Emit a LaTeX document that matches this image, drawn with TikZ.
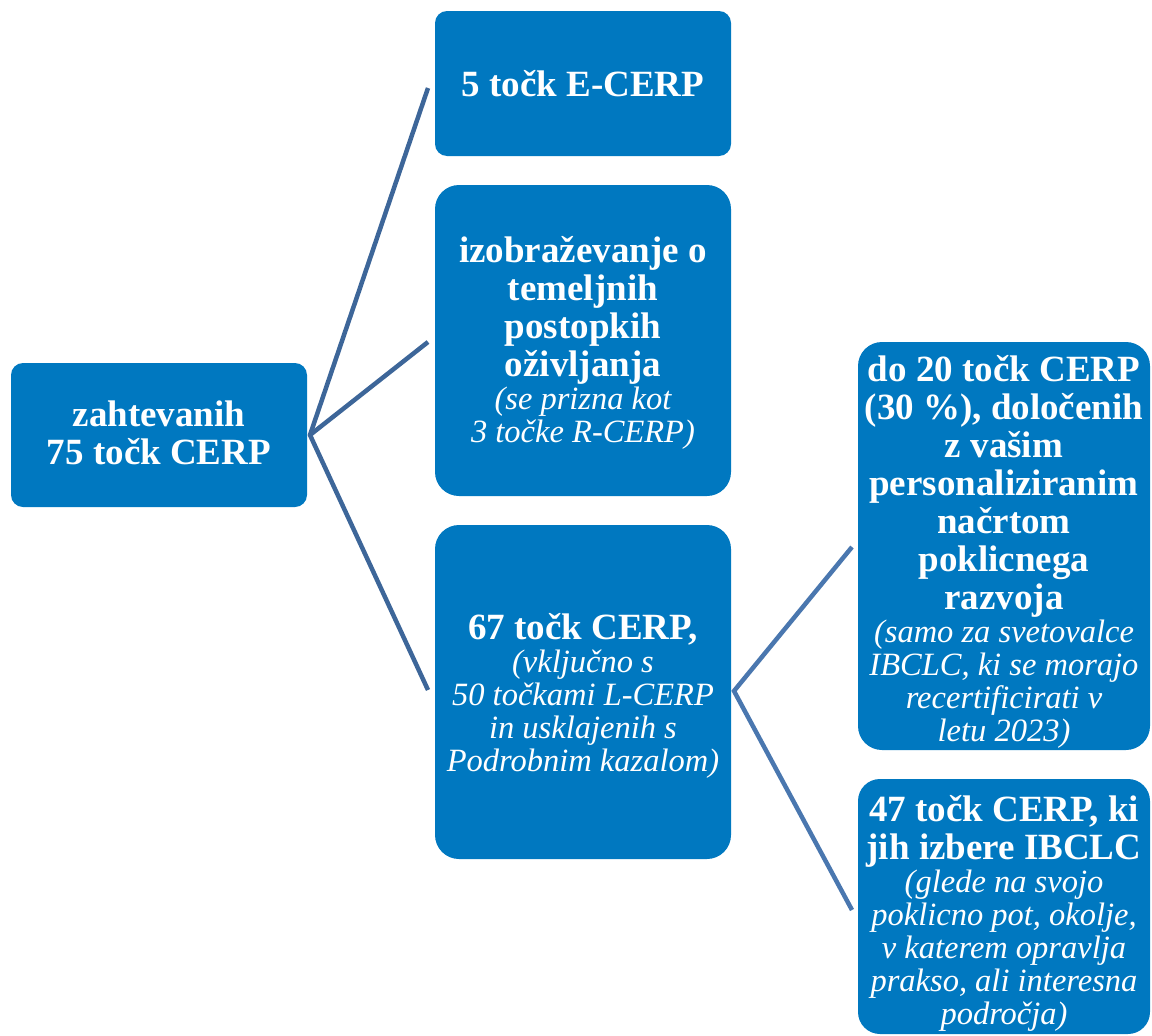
\documentclass[tikz,border=0pt]{standalone}
\usepackage{fontspec}
\setmainfont{Liberation Serif}
\definecolor{boxblue}{RGB}{0,120,192}
\definecolor{linkA}{RGB}{61,102,153}
\definecolor{linkB}{RGB}{74,119,175}
\newcommand{\boldtxt}{\fontsize{37}{38}\selectfont\bfseries}
\newcommand{\italtxt}{\fontsize{32.5}{33}\selectfont\itshape\mdseries}
\newcommand{\boxtext}[1]{\parbox{340pt}{\centering\color{white}#1}}
\begin{document}
\begin{tikzpicture}[x=1pt,y=-1pt,
  box/.style={fill=boxblue, draw=none, inner sep=0pt},
  txt/.style={inner sep=0pt},
  link/.style={line width=4.5pt, line join=miter}]
\useasboundingbox (0,0) rectangle (1152,1036);
% boxes
\node[box, rounded corners=12pt, minimum width=296pt, minimum height=144pt] (root) at (159,435) {};
\node[box, rounded corners=12pt, minimum width=296pt, minimum height=145pt] (b1) at (583,83.5) {};
\node[box, rounded corners=24pt, minimum width=296pt, minimum height=311pt] (b2) at (583,340.5) {};
\node[box, rounded corners=24pt, minimum width=296pt, minimum height=334pt] (b3) at (583,692) {};
\node[box, rounded corners=24pt, minimum width=292pt, minimum height=408pt] (b4) at (1004,546) {};
\node[box, rounded corners=22pt, minimum width=292pt, minimum height=255pt] (b5) at (1004,906.5) {};
% texts
\node[txt] (t0) at ([yshift=2pt]root.center) {\boxtext{\boldtxt zahtevanih\\75 točk CERP\par}};
\node[txt] (t1) at (b1.center) {\boxtext{\boldtxt 5 točk E-CERP\par}};
\node[txt] (t2) at ([yshift=-2pt]b2.center) {\boxtext{{\boldtxt izobraževanje o\\temeljnih\\postopkih\\oživljanja\par}{\italtxt (se prizna kot\\3 točke R-CERP)\par}}};
\node[txt] (t3) at ([yshift=-4pt]b3.center) {\boxtext{{\boldtxt 67 točk CERP,\par}{\italtxt (vključno s\\50 točkami L-CERP\\in usklajenih s\\Podrobnim kazalom)\par}}};
\node[txt] (t4) at ([yshift=-6pt]b4.center) {\boxtext{{\boldtxt do 20 točk CERP\\(30 \%), določenih\\z vašim\\personaliziranim\\načrtom\\poklicnega\\razvoja\par}{\italtxt (samo za svetovalce\\IBCLC, ki se morajo\\recertificirati v\\letu 2023)\par}}};
\node[txt] (t5) at ([yshift=-7pt]b5.center) {\boxtext{{\boldtxt 47 točk CERP, ki\\jih izbere IBCLC\par}{\italtxt (glede na svojo\\poklicno pot, okolje,\\v katerem opravlja\\prakso, ali interesna\\področja)\par}}};
% connector ends
\coordinate (j1) at (310,435);
\coordinate (e1) at (428,88);
\coordinate (e2) at (428,342);
\coordinate (e3) at (428,690);
\coordinate (j2) at (734,691);
\coordinate (e4) at (852,547);
\coordinate (e5) at (852,910);
\draw[link, linkA] (e1) -- (j1) -- (e3);
\draw[link, linkA] (j1) -- (e2);
\draw[link, linkB] (e4) -- (j2) -- (e5);
\end{tikzpicture}
\end{document}
